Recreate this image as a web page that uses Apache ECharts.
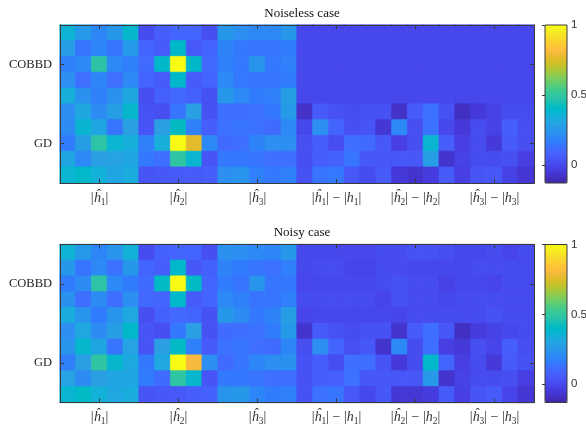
<!DOCTYPE html>
<html><head><meta charset="utf-8">
<style>html,body{margin:0;padding:0;background:#fff}#c{width:586px;height:426px}</style>
<script src="https://cdn.jsdelivr.net/npm/echarts@6/dist/echarts.min.js"></script>
</head><body><div id="c"></div>
<script>
const titles = ['Noiseless case', 'Noisy case'];
const rowLabels = ['', '', 'COBBD', '', '', '', '', 'GD', '', ''];
const groupLabels = ['|ĥ1|', '|ĥ2|', '|ĥ3|', '|ĥ1| − |h1|', '|ĥ2| − |h2|', '|ĥ3| − |h3|'];
const colorbarTicks = [0, 0.5, 1];
const noiseless = [
[.36,.26,.19,.25,.38,.01,.07,.09,.09,.02,.25,.22,.20,.20,.25,0,0,0,0,0,0,0,0,0,0,0,0,0,0,0],
[.27,.14,.19,.14,.26,.09,.06,.39,.05,.09,.18,.15,.14,.14,.16,0,0,0,0,0,0,0,0,0,0,0,0,0,0,0],
[.17,.20,.48,.20,.17,.11,.39,1.0,.39,.10,.17,.15,.24,.15,.17,0,0,0,0,0,0,0,0,0,0,0,0,0,0,0],
[.22,.12,.19,.12,.20,.09,.06,.39,.06,.09,.20,.15,.14,.14,.16,0,0,0,0,0,0,0,0,0,0,0,0,0,0,0],
[.34,.23,.17,.23,.31,.02,.08,.10,.08,.03,.25,.20,.16,.17,.27,0,0,0,0,0,0,0,0,0,0,0,0,0,0,0],
[.22,.31,.21,.27,.38,.03,.02,.14,.28,.03,.12,.12,.13,.15,.26,-.08,.06,.03,.01,.03,.03,-.08,.06,.13,.03,-.09,-.05,-.02,.01,.01],
[.21,.37,.30,.14,.28,.04,.28,.41,.17,.07,.13,.14,.13,.11,.20,0,.22,.09,.02,.04,-.06,.20,.02,.13,0,-.05,.01,-.02,.07,.02],
[.16,.27,.48,.37,.34,.17,.34,1.0,.76,.20,.11,.12,.18,.22,.22,.02,.07,.01,.12,.11,.05,-.03,.02,.37,.07,-.03,.01,-.05,.06,.02],
[.30,.20,.28,.29,.30,.15,.12,.49,.37,.04,.15,.15,.14,.12,.12,.02,.07,.08,.14,.05,.05,.05,.05,.27,-.07,-.02,.01,.01,.02,-.03],
[.37,.39,.35,.30,.33,.04,.05,.06,.06,.07,.22,.24,.17,.15,.17,.03,.14,.15,.05,.01,.06,-.05,-.07,-.04,.06,-.03,.04,.05,-.02,-.06]
];
const noisy = [
[.36,.26,.19,.24,.35,.01,.08,.09,.09,.02,.23,.22,.20,.19,.25,0,0,0,-.005,-.005,.01,.01,.03,.03,.02,0,0,.01,-.01,.01],
[.25,.14,.20,.13,.25,.09,.07,.39,.05,.08,.18,.16,.14,.13,.17,0,.01,.01,-.01,-.01,.01,.01,0,0,0,0,.01,.01,.01,.01],
[.16,.21,.48,.20,.16,.11,.40,1.0,.40,.09,.16,.14,.24,.14,.15,-.005,0,0,0,0,.01,.03,.01,.01,-.02,0,0,-.01,.01,.01],
[.23,.12,.21,.12,.22,.10,.09,.39,.06,.09,.20,.17,.14,.14,.17,.01,.01,.01,.01,.01,-.01,.03,.01,.01,0,.01,.01,.01,.01,.01],
[.33,.24,.16,.24,.31,.02,.08,.10,.09,.03,.25,.21,.15,.18,.27,-.01,0,0,0,0,0,-.01,.01,.01,.01,.01,.01,.03,.01,.01],
[.22,.31,.21,.27,.39,.04,.02,.15,.28,.03,.11,.12,.13,.16,.26,-.07,.06,.03,.01,.03,.03,-.07,.06,.12,.05,-.09,-.04,-.02,0,.01],
[.24,.38,.30,.14,.29,.04,.28,.40,.17,.06,.13,.14,.12,.11,.19,.02,.22,.09,.02,.05,-.07,.20,.01,.12,-.03,-.05,.02,-.01,.07,.02],
[.17,.28,.49,.38,.32,.15,.31,1.0,.80,.22,.11,.14,.19,.22,.23,.03,.07,.01,.12,.12,.04,-.05,.01,.39,.09,-.03,.01,-.05,.06,.03],
[.29,.21,.28,.30,.30,.16,.11,.49,.38,.04,.15,.15,.14,.12,.12,.03,.07,.07,.13,.05,.05,.05,.05,.26,-.07,-.02,.01,.01,.02,-.03],
[.37,.40,.35,.31,.33,.04,.05,.05,.07,.08,.24,.25,.19,.16,.17,.03,.13,.14,.05,0,.05,-.06,-.06,-.04,.06,-.03,.04,.06,-.01,-.06]
];
const parula = ['#3e2aa8','#402ab4','#4230c0','#4432cb','#4537d5','#463cde','#4741e5','#4747eb','#474df0','#4752f4','#4758f8','#465dfb','#4563fd','#4269fe','#3e6fff','#3875fe','#327bfc','#2f81fa','#2d87f7','#2d8cf3','#2b91ef','#2796eb','#259be7','#2ca0e4','#20a5e3','#1ca9df','#18addb','#12b1d6','#08b5d0','#01b8ca','#02bac3','#0bbdbd','#19bfb6','#24c1ae','#2cc3a7','#31c69f','#37c897','#3fca8e','#4acb84','#57cc7a','#64cd6f','#72cc64','#81cc59','#8fca4e','#9dc942','#abc739','#b9c431','#c5c22a','#d1bf27','#dcbd29','#e6bb2d','#efba36','#f8ba3d','#febe3c','#fec338','#fec934','#fccf30','#f9d62d','#f7dc2a','#f5e327','#f5e924','#f6ef20','#f7f51b','#f9fb15'];
const V_MIN = -0.13, V_MAX = 1;
const AX = '#3a3a3a';
const SERIF = '"Liberation Serif","DejaVu Serif",serif';
const cols = Array.from({length: 30}, (_, i) => i % 5 === 2 ? groupLabels[(i - 2) / 5] : 'c' + i);
const isLabelCol = i => i % 5 === 2;
const isLabelRow = i => rowLabels[i] !== '';
const grids = [{top: 25, h: 158}, {top: 244.5, h: 158}];
const shade = v => echarts.color.lerp((v - V_MIN) / (V_MAX - V_MIN), parula);

function math(s) {
  return s.replace(/./g, ch => {
    if (ch === ' ') return '{n| }';
    if (/[0-9]/.test(ch)) return '{s|' + ch + '}';
    if (ch === 'h' || ch === 'ĥ') return '{i|' + ch + '}';
    return '{n|' + ch + '}';
  });
}
const option = {
  animation: false, backgroundColor: '#fff',
  title: titles.map((t, k) => ({
    text: t, left: 297, top: grids[k].top - 23, textAlign: 'center',
    textStyle: {fontFamily: SERIF, fontWeight: 'normal', fontSize: 13, color: '#111'}
  })),
  visualMap: grids.map((g, k) => ({
    type: 'continuous', seriesIndex: k, min: V_MIN, max: V_MAX, calculable: false, hoverLink: false,
    left: 545, top: g.top, itemWidth: 22, itemHeight: g.h, padding: 0, text: null, showLabel: false,
    inRange: {color: parula}, textStyle: {fontSize: 0}
  })),
  grid: [
    ...grids.map(g => ({left: 60, width: 474, top: g.top, height: g.h, show: false, outerBoundsMode: 'none'})),
    ...grids.map(g => ({left: 545, width: 22, top: g.top, height: g.h, show: true, z: 10, outerBoundsMode: 'none',
      backgroundColor: 'transparent', borderColor: AX, borderWidth: 1}))
  ],
  xAxis: [],
  yAxis: [],
  series: [noiseless, noisy].map((m, k) => ({
    type: 'heatmap', xAxisIndex: k * 2, yAxisIndex: k * 2, progressive: 0,
    data: m.flatMap((row, r) => row.map((v, c) => ({
      value: [c, r, v], itemStyle: {borderWidth: 0.6, borderColor: shade(v)}
    }))),
    emphasis: {disabled: true}
  }))
};
const line = {show: true, lineStyle: {color: AX, width: 1}, onZero: false};
const tick = {show: true, inside: true, length: 4, alignWithLabel: true, lineStyle: {color: AX, width: 1}};
[0, 1].forEach(k => {
  option.xAxis.push({type: 'category', gridIndex: k, position: 'bottom', data: cols, z: 6, axisLine: line,
    axisTick: {...tick, interval: isLabelCol}, splitLine: {show: false},
    axisLabel: {show: true, interval: isLabelCol, margin: 6, hideOverlap: false, formatter: v => math(v), rich: {
      n: {fontFamily: SERIF, fontSize: 14, color: '#333', lineHeight: 18, verticalAlign: 'middle'},
      i: {fontFamily: SERIF, fontStyle: 'italic', fontSize: 14, color: '#333', lineHeight: 18, verticalAlign: 'middle'},
      s: {fontFamily: SERIF, fontSize: 9.5, color: '#333', lineHeight: 12, verticalAlign: 'bottom'}
    }}});
  option.xAxis.push({type: 'category', gridIndex: k, position: 'top', data: cols, z: 6, axisLine: line,
    axisTick: {...tick, interval: isLabelCol}, axisLabel: {show: false}, splitLine: {show: false}});
  const rowCats = rowLabels.map((r, i) => r || 'r' + i);
  option.yAxis.push({type: 'category', gridIndex: k, position: 'left', inverse: true, data: rowCats, z: 6, axisLine: line,
    axisTick: {...tick, interval: isLabelRow}, splitLine: {show: false},
    axisLabel: {show: true, interval: isLabelRow, margin: 8, fontFamily: SERIF, fontSize: 12.5, color: '#222'}});
  option.yAxis.push({type: 'category', gridIndex: k, position: 'right', inverse: true, data: rowCats, z: 6, axisLine: line,
    axisTick: {...tick, interval: isLabelRow}, axisLabel: {show: false}, splitLine: {show: false}});
});
[2, 3].forEach(k => {
  option.xAxis.push({type: 'value', gridIndex: k, min: 0, max: 1, show: false});
  option.yAxis.push({type: 'value', gridIndex: k, position: 'right', min: V_MIN, max: V_MAX, z: 11,
    axisLine: {show: false}, splitLine: {show: false},
    axisTick: {show: true, inside: true, length: 3, customValues: colorbarTicks, lineStyle: {color: AX}},
    axisLabel: {show: true, customValues: colorbarTicks, margin: 4, showMinLabel: true, showMaxLabel: true,
      fontFamily: '"Liberation Sans",Arial,sans-serif', fontSize: 11.5, color: '#333'}});
});
echarts.init(document.getElementById('c'), null, {renderer: 'canvas'}).setOption(option);
</script></body></html>
